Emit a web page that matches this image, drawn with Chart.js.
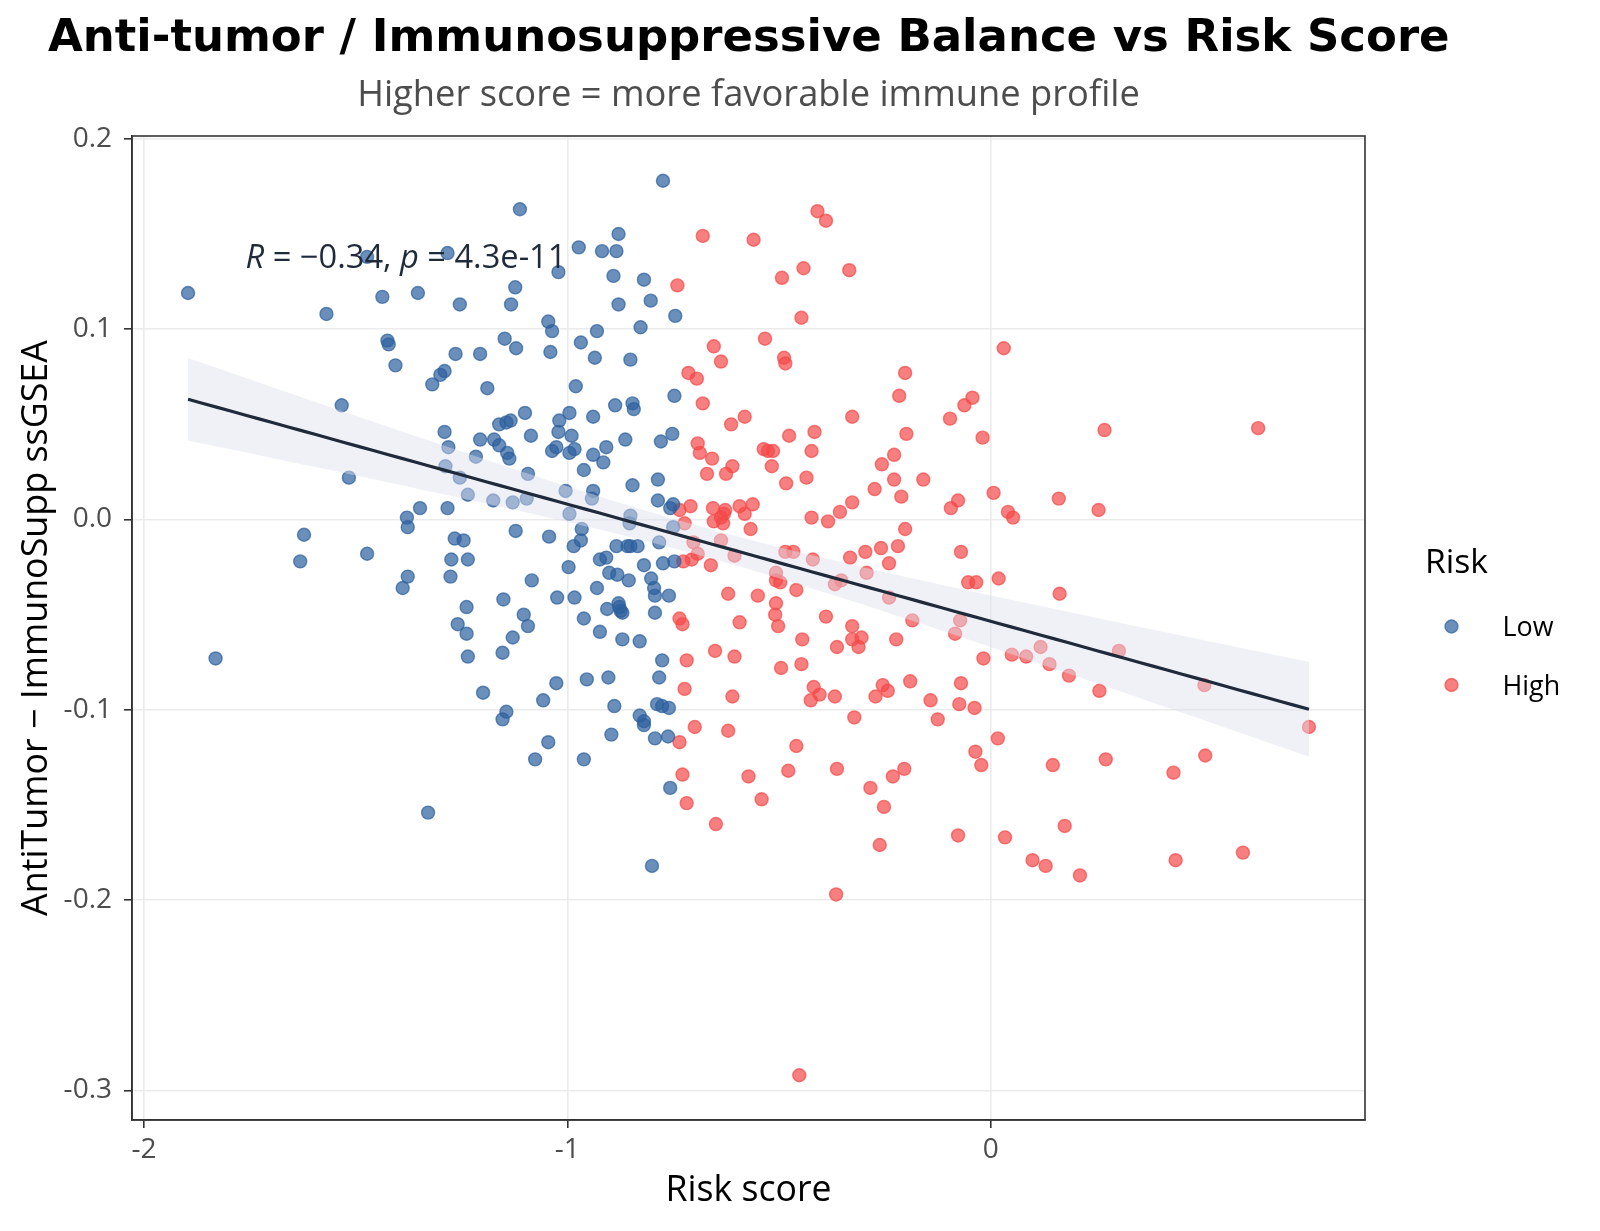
<!DOCTYPE html>
<html><head><meta charset="utf-8">
<script src="https://cdn.jsdelivr.net/npm/chart.js@4.4.1/dist/chart.umd.min.js"></script>
<style>html,body{margin:0;padding:0;background:#fff}#wrap{width:1600px;height:1231px;position:relative}</style>
</head><body><div id="wrap"><canvas id="c"></canvas></div>
<script>
// ---------------- DATA ----------------
const lowX = [
-0.774,-1.112,-0.879,-0.973,-0.918,-0.884,-1.283,-1.473,-0.891,-1.021,
-0.819,-1.896,-1.353,-1.437,-1.123,-0.803,-1.133,-0.879,-1.254,-1.569,
-1.045,-0.745,-1.036,-0.930,-0.827,-1.425,-1.422,-1.148,-0.968,-1.121,
-1.040,-1.264,-1.206,-1.406,-0.935,-0.851,-1.290,-1.300,-1.319,-0.980,
-1.189,-0.747,-1.533,-0.887,-0.846,-0.843,-1.100,-0.995,-1.019,-1.134,
-1.144,-0.939,-1.161,-1.290,-0.752,-1.021,-1.086,-1.206,-1.173,-0.990,
-0.863,-0.779,-1.161,-1.281,-0.908,-1.026,-0.983,-0.995,-1.036,-1.216,
-1.142,-1.137,-0.915,-0.939,-0.961,-1.288,-1.093,-1.254,-1.516,-0.786,
-0.846,-1.235,-0.939,-1.004,-1.096,-1.175,-0.942,-1.129,-0.786,-0.757,
-0.750,-1.283,-1.348,-0.995,-0.851,-1.379,-0.750,-1.377,-1.622,-1.122,
-0.966,-1.266,-1.043,-0.968,-1.245,-0.783,-0.851,-0.985,-0.884,-0.858,
-0.834,-1.473,-1.274,-0.923,-0.908,-1.235,-0.747,-1.631,-0.774,-0.819,
-0.997,-0.901,-0.882,-1.084,-0.855,-0.802,-1.377,-1.276,-1.389,-0.930,
-0.795,-0.793,-0.760,-1.151,-1.024,-0.983,-0.879,-0.877,-0.874,-0.906,
-1.238,-0.870,-0.793,-1.103,-0.961,-1.259,-1.093,-0.923,-1.238,-1.129,
-0.870,-0.829,-1.153,-1.235,-1.831,-0.776,-1.026,-0.954,-0.903,-0.783,
-1.199,-1.057,-0.889,-0.788,-0.776,-0.760,-1.144,-0.829,-0.819,-1.153,
-0.819,-0.896,-0.793,-0.762,-1.045,-1.076,-0.961,-0.757,-1.329,-0.800,
-0.853
];
const lowY = [
0.178,0.163,0.150,0.143,0.141,0.141,0.140,0.138,0.128,0.130,
0.126,0.119,0.119,0.117,0.122,0.115,0.113,0.113,0.113,0.108,
0.104,0.107,0.099,0.099,0.101,0.094,0.092,0.095,0.093,0.090,
0.088,0.087,0.087,0.081,0.085,0.084,0.078,0.076,0.071,0.070,
0.069,0.065,0.060,0.060,0.061,0.058,0.056,0.056,0.052,0.052,
0.051,0.054,0.050,0.046,0.045,0.046,0.044,0.042,0.042,0.044,
0.042,0.041,0.039,0.038,0.038,0.038,0.037,0.035,0.036,0.033,
0.035,0.032,0.030,0.034,0.026,0.028,0.024,0.022,0.022,0.021,
0.018,0.013,0.015,0.015,0.011,0.010,0.011,0.009,0.010,0.006,
0.008,0.006,0.006,0.003,0.002,0.001,-0.004,-0.004,-0.008,-0.006,
-0.005,-0.010,-0.009,-0.011,-0.011,-0.012,-0.014,-0.014,-0.014,-0.014,
-0.014,-0.018,-0.021,-0.021,-0.020,-0.021,-0.022,-0.022,-0.023,-0.024,
-0.025,-0.028,-0.029,-0.032,-0.032,-0.031,-0.030,-0.030,-0.036,-0.036,
-0.036,-0.040,-0.040,-0.042,-0.041,-0.041,-0.044,-0.046,-0.048,-0.047,
-0.046,-0.049,-0.049,-0.050,-0.052,-0.055,-0.056,-0.059,-0.060,-0.062,
-0.063,-0.064,-0.070,-0.072,-0.073,-0.074,-0.086,-0.084,-0.083,-0.083,
-0.091,-0.095,-0.098,-0.097,-0.098,-0.099,-0.101,-0.103,-0.106,-0.105,
-0.108,-0.113,-0.115,-0.114,-0.117,-0.126,-0.126,-0.141,-0.154,-0.182,
-0.002
];
const highX = [
-0.409,-0.389,-0.680,-0.560,-0.442,-0.334,-0.493,-0.740,-0.447,-0.533,
-0.654,0.031,-0.488,-0.485,-0.637,-0.714,-0.202,-0.694,-0.216,-0.043,
-0.062,-0.680,0.632,0.269,-0.096,-0.327,-0.581,-0.613,-0.416,-0.476,
-0.199,-0.019,-0.692,-0.423,-0.536,-0.526,-0.514,-0.687,-0.228,-0.658,
-0.517,-0.610,-0.257,-0.670,-0.625,-0.435,-0.228,-0.159,-0.483,-0.274,
0.007,-0.211,0.161,-0.077,-0.327,-0.562,-0.709,0.255,-0.656,-0.593,
-0.094,-0.627,-0.630,0.041,0.053,-0.356,-0.423,-0.581,-0.384,-0.723,
-0.567,-0.632,-0.202,-0.637,-0.702,-0.070,-0.296,-0.219,-0.259,-0.466,
-0.485,-0.420,-0.332,-0.692,-0.706,-0.605,-0.726,-0.661,-0.240,-0.507,
-0.507,-0.293,-0.353,0.019,-0.053,-0.034,-0.497,-0.459,-0.368,0.163,
-0.620,-0.550,-0.240,-0.507,-0.389,-0.509,-0.735,-0.593,-0.728,-0.185,
-0.072,-0.327,-0.502,-0.084,-0.305,-0.445,-0.223,-0.327,0.118,-0.312,
-0.363,0.050,0.084,0.303,-0.651,-0.017,-0.605,0.139,-0.718,-0.447,
-0.495,0.185,-0.190,-0.070,0.505,-0.723,-0.418,-0.243,-0.404,-0.368,
-0.272,0.257,-0.610,-0.425,-0.142,-0.074,-0.038,-0.322,-0.125,-0.699,
0.752,-0.620,0.017,-0.735,-0.459,-0.036,0.507,0.272,-0.022,0.147,
-0.363,-0.204,-0.231,-0.478,0.432,-0.728,-0.572,-0.284,-0.541,-0.252,
-0.718,-0.649,0.175,-0.077,0.034,-0.262,0.596,0.099,0.437,0.130,
0.211,-0.365,-0.452,-0.735,-0.637,-0.654,-0.255
];
const highY = [
0.162,0.157,0.149,0.147,0.132,0.131,0.127,0.123,0.106,0.095,
0.091,0.090,0.085,0.082,0.083,0.077,0.077,0.074,0.065,0.064,
0.060,0.061,0.048,0.047,0.053,0.054,0.054,0.050,0.046,0.044,
0.045,0.043,0.040,0.036,0.037,0.036,0.036,0.035,0.034,0.032,
0.028,0.028,0.029,0.024,0.024,0.022,0.021,0.021,0.019,0.016,
0.014,0.012,0.011,0.010,0.009,0.008,0.007,0.005,0.006,0.007,
0.006,0.005,0.003,0.004,0.001,0.004,0.001,0.003,-0.001,-0.002,
-0.005,-0.002,-0.005,-0.011,-0.012,-0.017,-0.017,-0.014,-0.015,-0.017,
-0.017,-0.021,-0.020,-0.018,-0.021,-0.019,-0.022,-0.024,-0.023,-0.028,
-0.032,-0.028,-0.032,-0.031,-0.033,-0.033,-0.033,-0.037,-0.034,-0.039,
-0.039,-0.040,-0.041,-0.044,-0.051,-0.050,-0.052,-0.054,-0.055,-0.053,
-0.053,-0.056,-0.056,-0.060,-0.062,-0.063,-0.063,-0.063,-0.067,-0.067,
-0.067,-0.071,-0.072,-0.069,-0.069,-0.073,-0.072,-0.076,-0.074,-0.076,
-0.078,-0.082,-0.085,-0.086,-0.087,-0.089,-0.088,-0.090,-0.092,-0.093,
-0.093,-0.090,-0.093,-0.095,-0.095,-0.097,-0.099,-0.104,-0.105,-0.109,
-0.109,-0.111,-0.115,-0.117,-0.119,-0.122,-0.124,-0.126,-0.129,-0.129,
-0.131,-0.131,-0.135,-0.132,-0.133,-0.134,-0.135,-0.141,-0.147,-0.151,
-0.149,-0.160,-0.161,-0.166,-0.167,-0.171,-0.175,-0.179,-0.179,-0.182,
-0.187,-0.197,-0.292,0.005,0.001,-0.001,-0.087
];
const seriesNames = ['Low', 'High'];
const xTicks = [-2, -1, 0];
const yTicks = [0.2, 0.1, 0.0, -0.1, -0.2, -0.3];
const statR = '\u22120.34';
const statP = '4.3e-11';
const annotPos = [-1.76, 0.132];
const titleText = 'Anti-tumor / Immunosuppressive Balance vs Risk Score';
const subtitleText = 'Higher score = more favorable immune profile';
const xTitleText = 'Risk score';
const yTitleText = 'AntiTumor \u2212 ImmunoSupp ssGSEA';
const legendTitle = 'Risk';

// ---------------- STYLE ----------------
const COL_LOW = 'rgba(44,95,158,0.7)';
const COL_HIGH = 'rgba(245,72,72,0.7)';
const BAND = 'rgba(222,225,238,0.45)';
const LINE = '#1f2a3a';
const FONT = "'Open Sans', 'Noto Sans', sans-serif";
const TFONT = "'DejaVu Sans', sans-serif";

// ---------------- derived: linear fit (as geom_smooth lm) ----------------
const allX = lowX.concat(highX), allY = lowY.concat(highY);
const n = allX.length;
const mx = allX.reduce((a, b) => a + b, 0) / n;
const my = allY.reduce((a, b) => a + b, 0) / n;
let sxx = 0, sxy = 0;
for (let i = 0; i < n; i++) { sxx += (allX[i] - mx) ** 2; sxy += (allX[i] - mx) * (allY[i] - my); }
const slope = sxy / sxx, icpt = my - slope * mx;
let sse = 0;
for (let i = 0; i < n; i++) sse += (allY[i] - icpt - slope * allX[i]) ** 2;
const sres = Math.sqrt(sse / (n - 2));
const tq = 1.9666;
const xmin = Math.min(...allX), xmax = Math.max(...allX);
const ymin = Math.min(...allY), ymax = Math.max(...allY);
const fitPts = [], upPts = [], loPts = [];
for (let k = 0; k < 80; k++) {
  const x = xmin + (xmax - xmin) * k / 79;
  const yh = icpt + slope * x;
  const se = sres * Math.sqrt(1 / n + (x - mx) ** 2 / sxx);
  fitPts.push({ x, y: yh }); upPts.push({ x, y: yh + tq * se }); loPts.push({ x, y: yh - tq * se });
}
const xr = xmax - xmin, yr = ymax - ymin;
const X_MIN = xmin - 0.05 * xr, X_MAX = xmax + 0.05 * xr;
const Y_MIN = ymin - 0.05 * yr, Y_MAX = ymax + 0.05 * yr;

// ---------------- helpers ----------------
function fitSize(ctx, text, style, family, target) {
  ctx.font = style + ' 100px ' + family;
  return 100 * target / ctx.measureText(text).width;
}
const mctx = document.createElement('canvas').getContext('2d');
const TICK = Math.round(fitSize(mctx, '-0.1', '', FONT, 48) * 2) / 2;

const textPlugin = {
  id: 'texts',
  afterDraw(chart) {
    const ctx = chart.ctx, ca = chart.chartArea;
    const sx = chart.scales.x, sy = chart.scales.y;
    ctx.save();
    // panel border
    ctx.strokeStyle = '#333'; ctx.lineWidth = 1.6;
    ctx.strokeRect(ca.left, ca.top, ca.right - ca.left, ca.bottom - ca.top);

    // correlation annotation
    const segs = [['R', 'italic'], [' = ' + statR + ', ', ''], ['p', 'italic'], [' = ' + statP, '']];
    let tot = 0;
    segs.forEach(s => { ctx.font = s[1] + ' 100px ' + FONT; tot += ctx.measureText(s[0]).width; });
    const aSize = 100 * 321 / tot;
    let ax = sx.getPixelForValue(annotPos[0]);
    const ay = sy.getPixelForValue(annotPos[1]);
    ctx.fillStyle = '#1f2a3a'; ctx.textBaseline = 'alphabetic'; ctx.textAlign = 'left';
    segs.forEach(s => { ctx.font = s[1] + ' ' + aSize + 'px ' + FONT; ctx.fillText(s[0], ax, ay); ax += ctx.measureText(s[0]).width; });

    // title
    let fs = fitSize(ctx, titleText, 'bold', TFONT, 1402);
    ctx.font = 'bold ' + fs + 'px ' + TFONT; ctx.fillStyle = '#000'; ctx.textAlign = 'left';
    ctx.fillText(titleText, 48, 51);
    // subtitle
    fs = fitSize(ctx, subtitleText, '', FONT, 783);
    ctx.font = fs + 'px ' + FONT; ctx.fillStyle = '#4d4d4d'; ctx.textAlign = 'center';
    ctx.fillText(subtitleText, (ca.left + ca.right) / 2, 106);
    // x title
    fs = fitSize(ctx, xTitleText, '', FONT, 166);
    ctx.font = fs + 'px ' + FONT; ctx.fillStyle = '#000';
    ctx.fillText(xTitleText, (ca.left + ca.right) / 2, 1188 + 0.357 * fs);
    // y title
    fs = fitSize(ctx, yTitleText, '', FONT, 576);
    ctx.save();
    ctx.translate(34 + 0.357 * fs, (ca.top + ca.bottom) / 2);
    ctx.rotate(-Math.PI / 2);
    ctx.font = fs + 'px ' + FONT; ctx.textAlign = 'center';
    ctx.fillText(yTitleText, 0, 0);
    ctx.restore();

    // legend
    fs = fitSize(ctx, legendTitle, '', FONT, 63);
    ctx.font = fs + 'px ' + FONT; ctx.textAlign = 'left'; ctx.fillStyle = '#000';
    ctx.fillText(legendTitle, 1425, 573);
    const ls = fitSize(ctx, seriesNames[0], '', FONT, 51);
    const cols = [COL_LOW, COL_HIGH];
    const ys = [626.5, 685];
    seriesNames.forEach((nm, i) => {
      ctx.beginPath(); ctx.arc(1451.5, ys[i], 6.5, 0, Math.PI * 2);
      ctx.fillStyle = cols[i]; ctx.fill();
      ctx.lineWidth = 1.4; ctx.strokeStyle = cols[i]; ctx.stroke();
      ctx.font = ls + 'px ' + FONT; ctx.fillStyle = '#000';
      ctx.fillText(nm, 1502.5, ys[i] + 0.357 * ls);
    });
    ctx.restore();
  }
};

const ptStyle = (c) => ({ backgroundColor: c, borderColor: c, borderWidth: 1.4, pointRadius: 6.5, pointHoverRadius: 6.5 });

new Chart(document.getElementById('c'), {
  type: 'scatter',
  data: {
    datasets: [
      { type: 'line', label: 'fit', data: fitPts, showLine: true, borderColor: LINE, borderWidth: 3.2, pointRadius: 0, fill: false, order: 0 },
      { type: 'line', label: 'ciUp', data: upPts, showLine: true, borderWidth: 0, borderColor: 'rgba(0,0,0,0)', backgroundColor: BAND, pointRadius: 0, fill: '+1', order: 1 },
      { type: 'line', label: 'ciLo', data: loPts, showLine: true, borderWidth: 0, borderColor: 'rgba(0,0,0,0)', pointRadius: 0, fill: false, order: 1 },
      Object.assign({ label: seriesNames[0], data: lowX.map((x, i) => ({ x, y: lowY[i] })), order: 2 }, ptStyle(COL_LOW)),
      Object.assign({ label: seriesNames[1], data: highX.map((x, i) => ({ x, y: highY[i] })), order: 2 }, ptStyle(COL_HIGH))
    ]
  },
  options: {
    responsive: true, maintainAspectRatio: false, animation: false, devicePixelRatio: 1,
    layout: { padding: { left: 0, top: 136, right: 235, bottom: 0 } },
    plugins: { legend: { display: false }, tooltip: { enabled: false }, title: { display: false } },
    scales: {
      x: {
        type: 'linear', min: X_MIN, max: X_MAX,
        afterFit: s => { s.height = 111; },
        afterBuildTicks: s => { s.ticks = xTicks.map(v => ({ value: v })); },
        ticks: { callback: v => String(v), font: { family: FONT, size: TICK }, color: '#4d4d4d', padding: 5, maxRotation: 0, autoSkip: false },
        grid: { color: '#ebebeb', lineWidth: 1.6, tickColor: '#333', tickLength: 8, tickWidth: 1.6 },
        border: { display: true, color: '#333', width: 1.6 }
      },
      y: {
        type: 'linear', min: Y_MIN, max: Y_MAX,
        afterFit: s => { s.width = 132; },
        afterBuildTicks: s => { s.ticks = yTicks.map(v => ({ value: v })); },
        ticks: { callback: v => (Math.abs(v) < 1e-9 ? 0 : v).toFixed(1), font: { family: FONT, size: TICK }, color: '#4d4d4d', padding: 12, autoSkip: false },
        grid: { color: '#ebebeb', lineWidth: 1.6, tickColor: '#333', tickLength: 8, tickWidth: 1.6 },
        border: { display: true, color: '#333', width: 1.6 }
      }
    }
  },
  plugins: [textPlugin]
});
</script>
</body></html>
